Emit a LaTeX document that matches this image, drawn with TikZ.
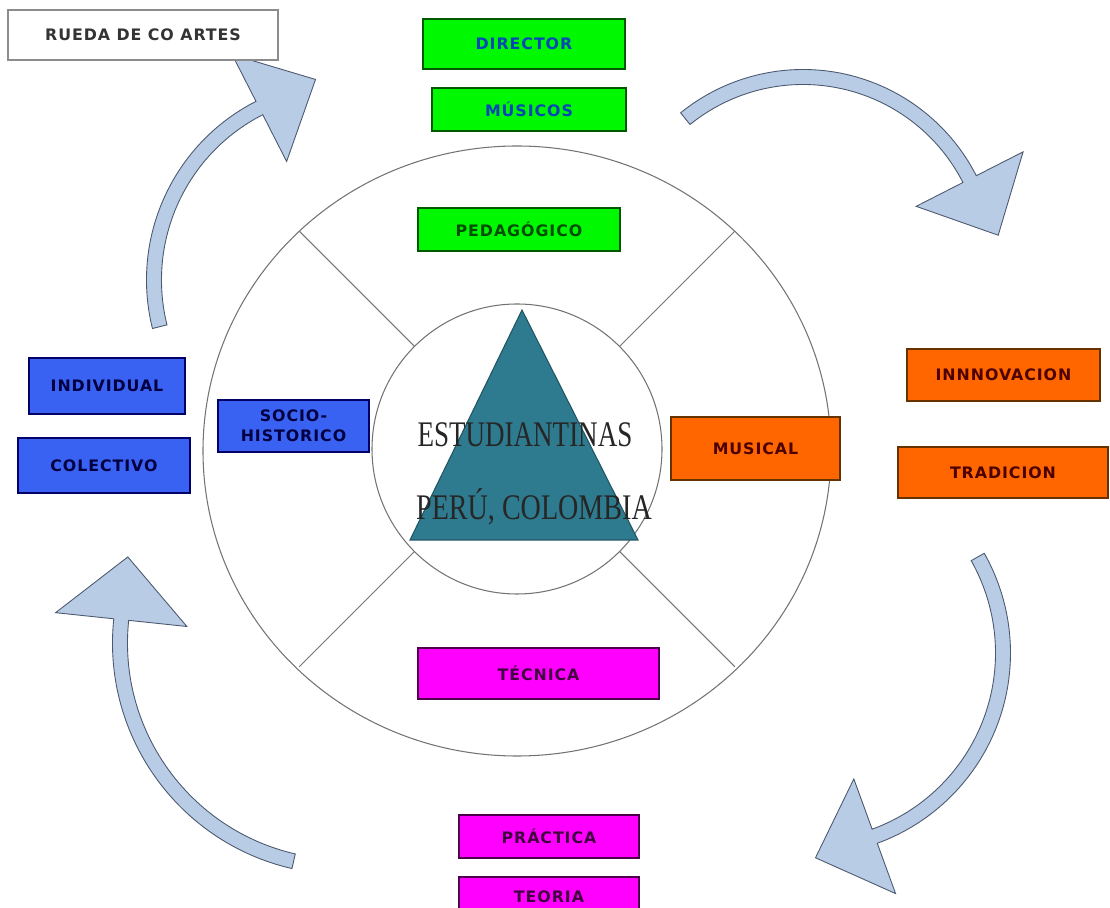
\documentclass[tikz,border=0pt]{standalone}
\usepackage{fontspec}
\setmainfont{Liberation Serif}
\newfontfamily\boxfont{DejaVu Sans}[LetterSpace=6]

\begin{document}
\begin{tikzpicture}[x=0.02cm, y=0.02cm]
\definecolor{arrowblue}{RGB}{184, 204, 230}
\definecolor{arrowline}{RGB}{75, 88, 110}
\definecolor{wheelgray}{RGB}{115, 115, 115}
\definecolor{triteal}{RGB}{46, 122, 142}
\definecolor{boxgreen}{RGB}{0, 248, 0}
\definecolor{boxblue}{RGB}{58, 98, 242}
\definecolor{boxorange}{RGB}{255, 102, 0}
\definecolor{boxmagenta}{RGB}{255, 0, 255}
\tikzset{
  wheel/.style={wheelgray, line width=0.6pt},
  blockarrow/.style={fill=arrowblue, draw=arrowline, line width=0.5pt, line join=miter},
  box/.style={draw, line width=0.8pt, inner sep=0pt, align=center,
    font=\boxfont\bfseries\fontsize{9}{11.3}\selectfont},
  boxsize/.style 2 args={minimum width=#1*0.02cm, minimum height=#2*0.02cm},
  greenbox/.style={box, fill=boxgreen, draw=green!35!black, text=green!30!black},
  bluebox/.style={box, fill=boxblue, draw=blue!40!black, text=blue!25!black},
  orangebox/.style={box, fill=boxorange, draw=orange!40!black, text=red!30!black},
  pinkbox/.style={box, fill=boxmagenta, draw=violet!60!black, text=violet!50!black},
  bigtext/.style={anchor=base, text=black!85, font=\fontsize{20.5}{24}\selectfont}
}
\useasboundingbox (0,0) rectangle (1110,-908);
% curved arrows round the wheel
\foreach \cx/\cy/\r/\a/\b/\hw in {347/-280/193/194/117/60, 803/-264/187/129/27/60,
                                  808/-653/195/29.5/-70/61, 344/-643/224/257/174/66} {
    \pgfmathsetmacro{\tr}{veclen(\r,63)}
    \pgfmathsetmacro{\ta}{\b-atan(63/\r)}
    \begin{scope}[shift={(\cx,\cy)}]
        \filldraw[blockarrow] (\a:\r+7.5) arc[start angle=\a, end angle=\b, radius=\r+7.5]
            -- (\b:\r+\hw) -- (\ta:\tr) -- (\b:\r-\hw) -- (\b:\r-7.5)
            arc[start angle=\b, end angle=\a, radius=\r-7.5] -- cycle;
    \end{scope}
}
% wheel
\coordinate (hub) at (517,-449);
\draw[wheel] (517,-451) ellipse[x radius=314, y radius=305];
\draw[wheel] (hub) circle[radius=145];
\foreach \ang in {45,135,225,315} {
    \draw[wheel] (hub) ++(\ang:145) -- ++(\ang:163);
}
\filldraw[fill=triteal, draw=triteal!70!black, line width=0.6pt] (522,-310) -- (638,-540) -- (410,-540) -- cycle;
\node[bigtext] (estudiantinas) at (525,-447) {\scalebox{0.75}[1]{ESTUDIANTINAS}};
\node[bigtext] (paises) at (534,-520) {\scalebox{0.78}[1]{PERÚ, COLOMBIA}};
% boxes
\node[box, fill=white, draw=black!45, line width=1pt, text=black!80, boxsize={270}{50}] (rueda) at (143,-35) {RUEDA DE CO ARTES};
\node[greenbox, text=blue!45!teal, boxsize={202}{50}] (director) at (524,-44) {DIRECTOR};
\node[greenbox, text=blue!45!teal, boxsize={194}{43}] (musicos) at (529,-109.5) {MÚSICOS};
\node[greenbox, boxsize={202}{43}] (pedagogico) at (519,-229.5) {PEDAGÓGICO};
\node[bluebox, boxsize={156}{56}] (individual) at (107,-386) {INDIVIDUAL};
\node[bluebox, boxsize={172}{55}] (colectivo) at (104,-465.5) {COLECTIVO};
\node[bluebox, boxsize={151}{52}] (socio) at (293.5,-426) {SOCIO-\\HISTORICO};
\node[orangebox, boxsize={169}{63}] (musical) at (755.5,-448.5) {MUSICAL};
\node[orangebox, boxsize={193}{52}] (innovacion) at (1003.5,-375) {INNNOVACION};
\node[orangebox, boxsize={210}{51}] (tradicion) at (1003,-472.5) {TRADICION};
\node[pinkbox, boxsize={241}{51}] (tecnica) at (538.5,-673.5) {TÉCNICA};
\node[pinkbox, boxsize={180}{43}] (practica) at (549,-836.5) {PRÁCTICA};
\node[pinkbox, boxsize={180}{39}] (teoria) at (549,-896.5) {TEORIA};
\end{tikzpicture}
\end{document}
